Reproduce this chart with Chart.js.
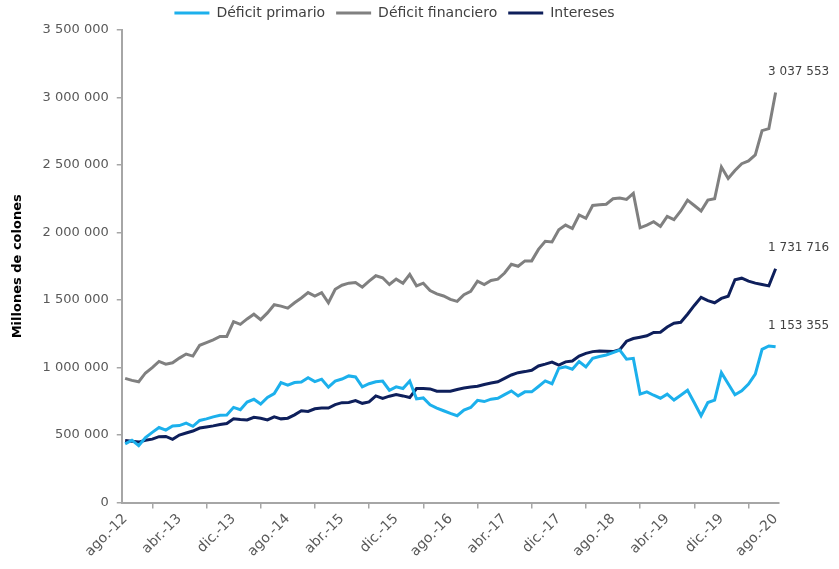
<!DOCTYPE html>
<html>
<head>
<meta charset="utf-8">
<script src="https://cdn.jsdelivr.net/npm/chart.js@4"></script>
<style>
  html, body { margin: 0; padding: 0; background: #fff; }
  #wrap { width: 839px; height: 569px; position: relative; }
</style>
</head>
<body>
<div id="wrap"><canvas id="deficit"></canvas></div>
<script>
// ago-12 .. ago-20, monthly
const meses = ['ene', 'feb', 'mar', 'abr', 'may', 'jun', 'jul', 'ago', 'set', 'oct', 'nov', 'dic']
const startMonth = 7
const startYear = 12
const nMonths = 97

const primario = [
    435000, 462000, 422000, 482000, 520000, 556000, 537000, 568000, 570000, 588000,
    565000, 608000, 620000, 635000, 647000, 648000, 705000, 688000, 745000, 765000,
    730000, 778000, 807000, 888000, 870000, 889000, 893000, 925000, 896000, 914000,
    855000, 900000, 915000, 938000, 930000, 857000, 880000, 895000, 900000, 832000,
    857000, 845000, 900000, 768000, 775000, 724000, 700000, 680000, 660000, 643000,
    685000, 704000, 757000, 748000, 766000, 773000, 800000, 827000, 790000, 820000,
    820000, 860000, 901000, 880000, 995000, 1005000, 988000, 1045000, 1005000, 1068000,
    1082000, 1093000, 1110000, 1130000, 1062000, 1068000, 803000, 820000, 795000, 773000,
    803000, 759000, 795000, 832000, 740000, 643000, 741000, 759000, 962000, 880000,
    798000, 827000, 877000, 951000, 1135000, 1160000, 1153355
]

const financiero = [
    920000, 905000, 895000, 960000, 1000000, 1045000, 1025000, 1035000, 1070000, 1100000,
    1085000, 1165000, 1185000, 1205000, 1230000, 1230000, 1340000, 1320000, 1360000, 1395000,
    1355000, 1405000, 1465000, 1455000, 1440000, 1480000, 1515000, 1555000, 1530000, 1555000,
    1480000, 1580000, 1610000, 1625000, 1630000, 1595000, 1640000, 1680000, 1665000, 1615000,
    1655000, 1625000, 1690000, 1605000, 1625000, 1570000, 1545000, 1530000, 1505000, 1490000,
    1540000, 1565000, 1640000, 1615000, 1645000, 1655000, 1700000, 1765000, 1750000, 1790000,
    1790000, 1875000, 1935000, 1930000, 2020000, 2055000, 2030000, 2130000, 2105000, 2200000,
    2205000, 2210000, 2250000, 2255000, 2245000, 2290000, 2035000, 2055000, 2080000, 2045000,
    2120000, 2095000, 2160000, 2240000, 2200000, 2160000, 2240000, 2250000, 2485000, 2400000,
    2460000, 2510000, 2530000, 2575000, 2755000, 2770000, 3037553
]

const intereses = [
    460000, 455000, 448000, 462000, 470000, 488000, 490000, 468000, 500000, 515000,
    530000, 552000, 560000, 568000, 578000, 585000, 620000, 615000, 612000, 632000,
    625000, 612000, 635000, 620000, 625000, 650000, 680000, 675000, 695000, 700000,
    700000, 725000, 740000, 742000, 755000, 735000, 745000, 790000, 772000, 788000,
    800000, 790000, 778000, 845000, 845000, 842000, 825000, 825000, 825000, 838000,
    848000, 856000, 862000, 875000, 885000, 895000, 920000, 945000, 962000, 970000,
    980000, 1012000, 1025000, 1040000, 1018000, 1042000, 1048000, 1085000, 1105000, 1118000,
    1122000, 1120000, 1118000, 1132000, 1195000, 1215000, 1225000, 1235000, 1260000, 1262000,
    1300000, 1328000, 1335000, 1395000, 1460000, 1520000, 1495000, 1480000, 1512000, 1528000,
    1650000, 1662000, 1640000, 1625000, 1615000, 1605000, 1731716
]

const seriesNames = ['Déficit primario', 'Déficit financiero', 'Intereses']
const seriesColors = ['#1cb0ec', '#808080', '#0e1f5b']
const yTicks = [0, 500000, 1000000, 1500000, 2000000, 2500000, 3000000, 3500000]

const labels = []
for (let i = 0; i < nMonths; i++) {
    let m = (startMonth + i) % 12
    let y = startYear + Math.floor((startMonth + i) / 12)
    labels.push(meses[m] + '.-' + y)
}

const FONT = "'DejaVu Sans', sans-serif"

function fmt(v) {
    return String(Math.round(v)).replace(/\B(?=(\d{3})+(?!\d))/g, ' ')
}

// last value label next to each line end
const endLabels = {
    id: 'endLabels',
    afterDatasetsDraw(chart) {
        const ctx = chart.ctx
        ctx.save()
        ctx.font = '12px ' + FONT
        ctx.fillStyle = '#404040'
        ctx.textAlign = 'center'
        ctx.textBaseline = 'middle'
        chart.data.datasets.forEach((ds, i) => {
            const pts = chart.getDatasetMeta(i).data
            const p = pts[pts.length - 1]
            const v = ds.data[ds.data.length - 1]
            ctx.fillText(fmt(v), p.x + 23, p.y - 21)
        })
        ctx.restore()
    }
}

const datasets = [primario, financiero, intereses].map((d, i) => ({
    label: seriesNames[i],
    data: d,
    borderColor: seriesColors[i],
    backgroundColor: seriesColors[i],
    borderWidth: 3,
    pointRadius: 0,
    tension: 0
}))

new Chart(document.getElementById('deficit'), {
    type: 'line',
    data: { labels: labels, datasets: datasets },
    plugins: [endLabels],
    options: {
        responsive: true,
        maintainAspectRatio: false,
        animation: false,
        layout: { padding: { top: -5, right: 60, bottom: 7, left: 10 } },
        plugins: {
            tooltip: { enabled: false },
            legend: {
                position: 'top',
                labels: {
                    boxWidth: 35,
                    boxHeight: 3,
                    padding: 11,
                    color: '#404040',
                    font: { family: FONT, size: 14 },
                    generateLabels(chart) {
                        const items = Chart.defaults.plugins.legend.labels.generateLabels(chart)
                        items.forEach(it => { it.lineWidth = 0 })
                        return items
                    }
                }
            }
        },
        scales: {
            x: {
                offset: true,
                grid: {
                    offset: true,
                    drawOnChartArea: false,
                    drawTicks: true,
                    tickLength: 6,
                    color: '#a6a6a6',
                    lineWidth: 1.5
                },
                border: { display: true, color: '#a6a6a6', width: 2 },
                ticks: {
                    autoSkip: false,
                    maxRotation: 45,
                    minRotation: 45,
                    padding: 2,
                    color: '#595959',
                    font: { family: FONT, size: 14 },
                    callback: (val, idx) => idx % 8 === 0 ? labels[idx] : null
                }
            },
            y: {
                min: 0,
                max: 3500000,
                afterBuildTicks: axis => { axis.ticks = yTicks.map(v => ({ value: v })) },
                grid: {
                    drawOnChartArea: false,
                    drawTicks: true,
                    tickLength: 5,
                    color: '#a6a6a6',
                    lineWidth: 1.5
                },
                border: { display: true, color: '#a6a6a6', width: 2 },
                ticks: {
                    padding: 8,
                    color: '#595959',
                    font: { family: FONT, size: 13 },
                    callback: v => fmt(v)
                },
                title: {
                    display: true,
                    text: 'Millones de colones',
                    color: '#000',
                    padding: { top: 0, bottom: 9 },
                    font: { family: FONT, size: 13, weight: 'bold' }
                }
            }
        }
    }
})
</script>
</body>
</html>
